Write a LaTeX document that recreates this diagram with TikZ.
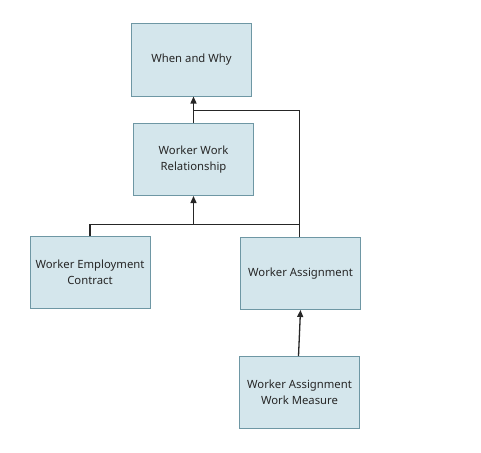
\documentclass[tikz,border=0pt]{standalone}
\usepackage{fontspec}
\setmainfont{Noto Sans}
\usetikzlibrary{arrows.meta}
\definecolor{boxfill}{HTML}{D4E6EC}
\definecolor{boxline}{HTML}{6E97A4}
\begin{document}
\begin{tikzpicture}[x=1pt,y=-1pt,
  ent/.style={draw=boxline,fill=boxfill,line width=1pt,minimum width=120pt,minimum height=72pt,inner sep=0pt,align=center,font=\fontsize{11.3}{15.5}\selectfont,text=black!85},
  conn/.style={draw=black!85,line width=1.3pt},
  arr/.style={conn,-{Triangle[length=7pt,width=6pt]}}]
\useasboundingbox (0,0) rectangle (481,452);
\node[ent] (ww) at (191.5,60) {When and Why};
\node[ent] (wwr) at (193.5,159.5) {Worker Work\\Relationship};
\node[ent] (wec) at (90,272.5) {Worker Employment\\Contract};
\node[ent] (wa) at (300.5,273.5) {Worker Assignment};
\node[ent] (wam) at (299.5,392.5) {Worker Assignment\\Work Measure};
\coordinate (j1) at (193.5,110.7);
\coordinate (j2) at (193.5,224.3);
\draw[arr] (wwr.north) -- (ww.south -| wwr.north);
\draw[conn] (j1) -| ([xshift=-0.8pt]wa.north);
\draw[conn] (wec.north) |- (j2) -| ([xshift=-0.8pt]wa.north);
\draw[arr] (j2) -- (wwr.south);
\draw[arr] ([xshift=-1pt]wam.north) -- (wa.south);
\end{tikzpicture}
\end{document}
